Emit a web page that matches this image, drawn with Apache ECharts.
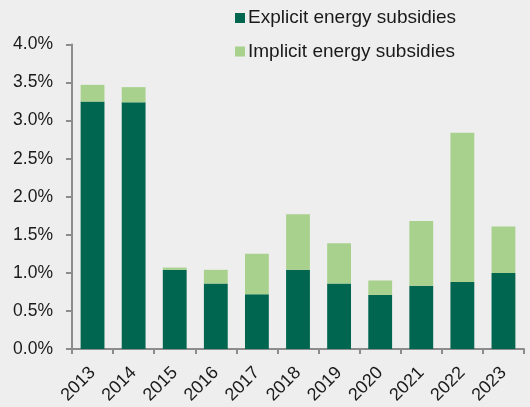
<!DOCTYPE html>
<html>
<head>
<meta charset="utf-8">
<script src="https://cdn.jsdelivr.net/npm/echarts@6/dist/echarts.min.js"></script>
<style>
html,body{margin:0;padding:0;background:#eeeeee;}
#c{width:530px;height:407px;}
</style>
</head>
<body>
<div id="c"></div>
<script>
var categories = ['2013','2014','2015','2016','2017','2018','2019','2020','2021','2022','2023'];
var explicitVals = [3.25, 3.24, 1.04, 0.86, 0.72, 1.04, 0.86, 0.71, 0.83, 0.88, 1.00];
var implicitVals = [0.22, 0.20, 0.03, 0.18, 0.53, 0.73, 0.53, 0.19, 0.85, 1.96, 0.61];
var yTicks = [0, 0.5, 1, 1.5, 2, 2.5, 3, 3.5, 4];

var chart = echarts.init(document.getElementById('c'), null, {renderer:'canvas'});
var font = 'Liberation Sans, Arial, sans-serif';
chart.setOption({
  backgroundColor: '#eeeeee',
  animation: false,
  grid: {left: 72, right: 6, top: 44.5, bottom: 58, containLabel: false},
  legend: {
    orient: 'vertical',
    left: 235, top: 7, padding: 0,
    itemWidth: 10, itemHeight: 10, itemGap: 11.5,
    icon: 'rect',
    textStyle: {fontFamily: font, fontSize: 19, color: '#1a1a1a', lineHeight: 22, padding: [0,0,0,-2]},
    data: ['Explicit energy subsidies', 'Implicit energy subsidies']
  },
  xAxis: {
    type: 'category',
    data: categories,
    axisLine: {lineStyle: {color: '#8c8c8c', width: 2}},
    axisTick: {show: true, length: 5, lineStyle: {color: '#8c8c8c', width: 2}},
    axisLabel: {rotate: 45, fontFamily: font, fontSize: 18, color: '#1a1a1a', margin: 21, interval: 0}
  },
  yAxis: {
    type: 'value',
    min: yTicks[0], max: yTicks[yTicks.length-1], interval: 0.5,
    splitLine: {show: false},
    axisLine: {show: true, lineStyle: {color: '#8c8c8c', width: 2}},
    axisTick: {show: true, length: 6, lineStyle: {color: '#8c8c8c', width: 2}},
    axisLabel: {fontFamily: font, fontSize: 17.5, color: '#1a1a1a', margin: 19,
      formatter: function(v){ return v.toFixed(1) + '%'; }}
  },
  series: [
    {name: 'Explicit energy subsidies', type: 'bar', stack: 's', data: explicitVals,
      barWidth: '58%', itemStyle: {color: '#00664f'}},
    {name: 'Implicit energy subsidies', type: 'bar', stack: 's', data: implicitVals,
      barWidth: '58%', itemStyle: {color: '#a9d18e'}}
  ]
});
</script>
</body>
</html>
